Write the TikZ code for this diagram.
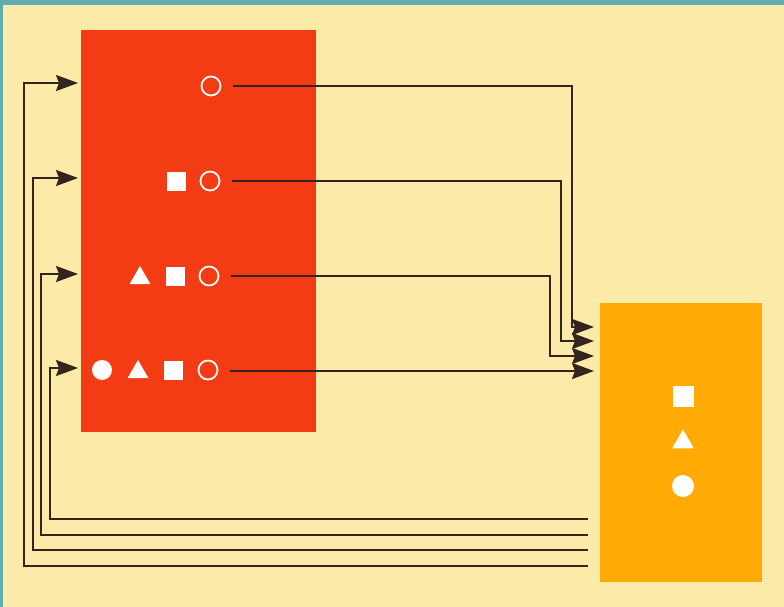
\documentclass[tikz,border=0pt]{standalone}
\usetikzlibrary{arrows.meta,shapes.geometric}
\definecolor{bgc}{HTML}{FBEAA8}
\definecolor{framec}{HTML}{5EAEB0}
\definecolor{redc}{HTML}{F43C14}
\definecolor{orc}{HTML}{FFAA05}
\definecolor{inkc}{HTML}{33251E}
\begin{document}
\begin{tikzpicture}[x=1pt,y=-1pt,
  box/.style={inner sep=0pt, anchor=north west},
  ring/.style={circle, draw=white, line width=1.8pt, minimum size=19pt, inner sep=0pt},
  dot/.style={circle, fill=white, minimum size=20pt, inner sep=0pt},
  sq/.style={rectangle, fill=white, minimum size=19pt, inner sep=0pt},
  tri/.style={regular polygon, regular polygon sides=3, fill=white, minimum size=24pt, inner sep=0pt},
  conn/.style={draw=inkc, line width=2pt, line join=miter, -{Stealth[length=22pt,width=16pt,inset=3pt]}},
  back/.style={draw=inkc, line width=2pt, line join=miter, -{Stealth[length=22pt,width=16pt,inset=3pt]}}]
\useasboundingbox (0,0) rectangle (784,607);
\fill[bgc] (0,0) rectangle (784,607);
\fill[framec] (0,0) rectangle (784,5);
\fill[framec] (0,0) rectangle (3,607);
% boxes
\node[box, fill=redc, minimum width=235pt, minimum height=402pt] (src) at (81,30) {};
\node[box, fill=orc, minimum width=162pt, minimum height=279pt] (dst) at (600,303) {};
% row 1
\node[ring] (c1) at (211,86) {};
% row 2
\node[sq] (s2) at (176,181) {};
\node[ring] (c2) at (210,181) {};
% row 3
\node[tri] (t3) at (140,278) {};
\node[sq] (s3) at (175,276) {};
\node[ring] (c3) at (209,276) {};
% row 4
\node[dot] (d4) at (102,370) {};
\node[tri] (t4) at (138,372) {};
\node[sq] (s4) at (173,370) {};
\node[ring] (c4) at (208,370) {};
% right box symbols
\node[sq, minimum size=21pt] (rs) at (683,396) {};
\node[tri, minimum size=25pt] (rt) at (683,442) {};
\node[dot, minimum size=22pt] (rd) at (683,486) {};
% arrow targets
\coordinate (a1) at (594,327);
\coordinate (a2) at (594,341);
\coordinate (a3) at (594,356);
\coordinate (a4) at (594,371);
\draw[conn] ([xshift=12pt]c1.east) -| (572,327) -- (a1);
\draw[conn] ([xshift=12pt]c2.east) -| (561,341) -- (a2);
\draw[conn] ([xshift=12pt]c3.east) -| (550,356) -- (a3);
\draw[conn] ([xshift=12pt,yshift=-1pt]c4.east) -- (a4);
% return lines
\coordinate (r1) at (588,566);
\coordinate (r2) at (588,550);
\coordinate (r3) at (588,535);
\coordinate (r4) at (588,519);
\coordinate (l1) at (78,83);
\coordinate (l2) at (78,178);
\coordinate (l3) at (78,274);
\coordinate (l4) at (78,368);
\draw[back] (r1) -| (24,83) -- (l1);
\draw[back] (r2) -| (33,178) -- (l2);
\draw[back] (r3) -| (41,274) -- (l3);
\draw[back] (r4) -| (50,368) -- (l4);
\end{tikzpicture}
\end{document}
